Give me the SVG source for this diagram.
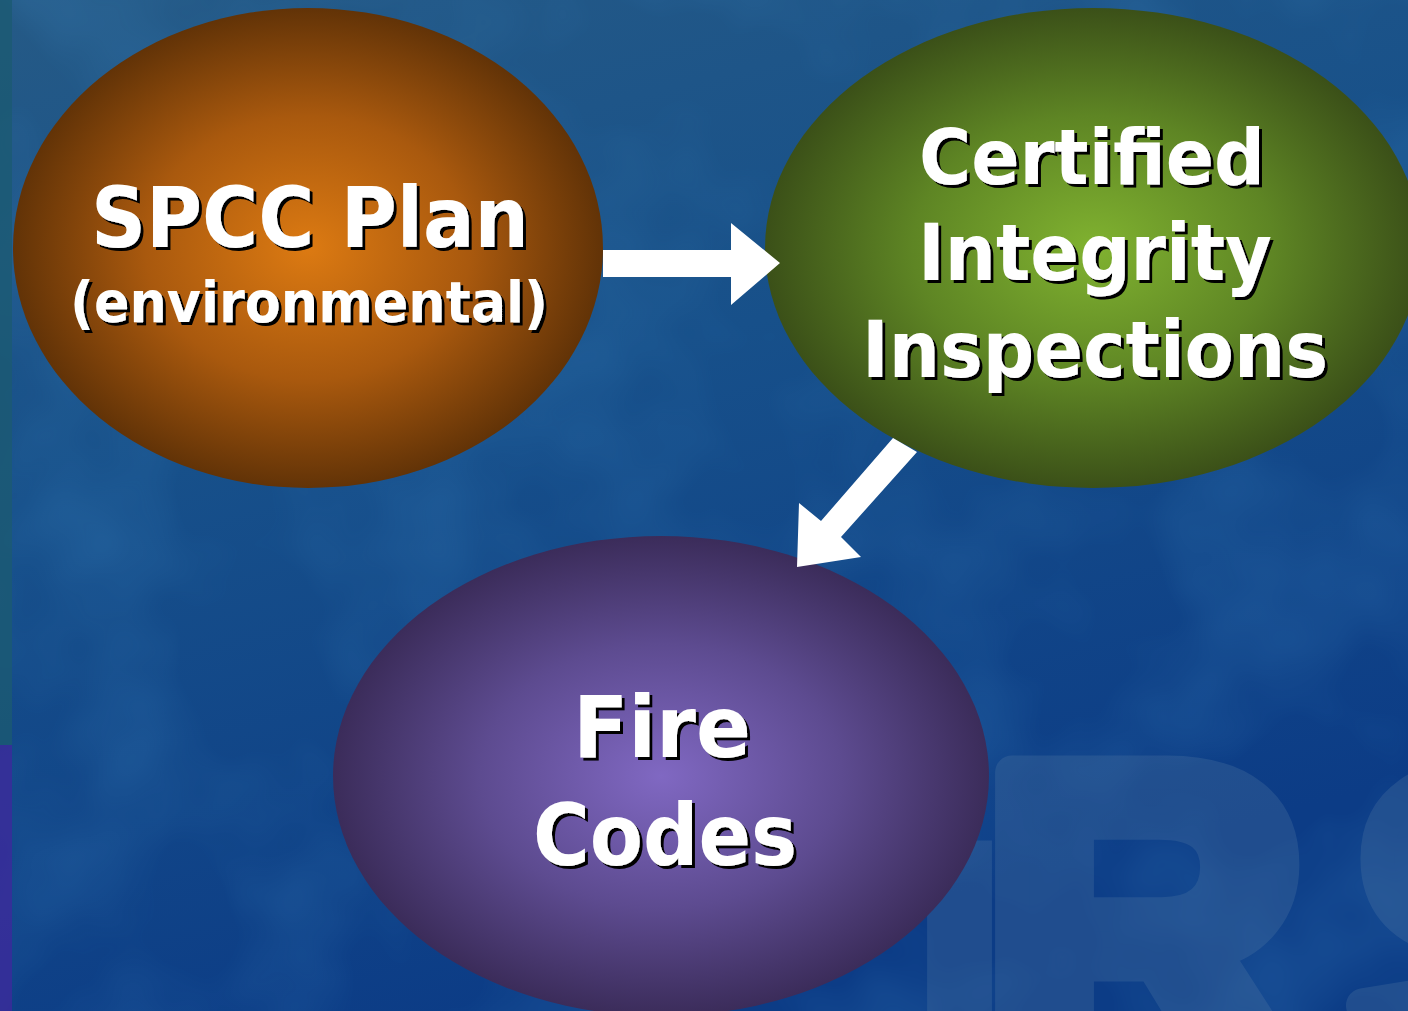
<svg xmlns="http://www.w3.org/2000/svg" width="1408" height="1011" viewBox="0 0 1408 1011">
  <style>
    .label { font-family: "DejaVu Sans", Verdana, sans-serif; font-weight: bold; fill: #ffffff; }
    .arrow { fill: #ffffff; }
    .mark { font-family: "Liberation Sans", Arial, sans-serif; font-weight: bold; fill: #5a7fa6; stroke: #5a7fa6; stroke-linejoin: round; opacity: 0.26; }
  </style>
  <defs>
    <linearGradient id="bg" x1="0" y1="0" x2="0.35" y2="1">
      <stop offset="0" stop-color="#255a86"/>
      <stop offset="0.45" stop-color="#17508a"/>
      <stop offset="1" stop-color="#0c3c86"/>
    </linearGradient>
    <radialGradient id="gOrange" cx="0.5" cy="0.5" r="0.5">
      <stop offset="0" stop-color="#dc7a12"/>
      <stop offset="0.55" stop-color="#a9590e"/>
      <stop offset="1" stop-color="#623307"/>
    </radialGradient>
    <radialGradient id="gGreen" cx="0.5" cy="0.5" r="0.5">
      <stop offset="0" stop-color="#80b230"/>
      <stop offset="0.55" stop-color="#5e8524"/>
      <stop offset="1" stop-color="#3b5018"/>
    </radialGradient>
    <radialGradient id="gPurple" cx="0.5" cy="0.5" r="0.5">
      <stop offset="0" stop-color="#8068c2"/>
      <stop offset="0.55" stop-color="#5d4b90"/>
      <stop offset="1" stop-color="#3b2c5a"/>
    </radialGradient>
    <filter id="mottle" x="0" y="0" width="100%" height="100%">
      <feTurbulence type="fractalNoise" baseFrequency="0.006" numOctaves="3" seed="7"/>
      <feColorMatrix type="matrix" values="0 0 0 0 0.05  0 0 0 0 0.25  0 0 0 0 0.55  0 0 0 1.2 -0.45"/>
    </filter>
    <filter id="shadow" x="-5%" y="-5%" width="110%" height="120%">
      <feOffset in="SourceAlpha" dx="3" dy="3" result="off"/>
      <feMerge>
        <feMergeNode in="off"/>
        <feMergeNode in="SourceGraphic"/>
      </feMerge>
    </filter>
  </defs>

  <!-- backdrop -->
  <g id="background">
    <rect width="1408" height="1011" fill="url(#bg)"/>
    <rect width="1408" height="1011" filter="url(#mottle)" opacity="0.4"/>
    <rect x="0" y="0" width="12" height="745" fill="#1b5a72" opacity="0.8"/>
    <rect x="0" y="745" width="12" height="266" fill="#3a2c9a" opacity="0.85"/>
    <text class="mark" font-size="450"><tspan x="897" y="1150" stroke-width="0">I</tspan><tspan x="982" y="1082" stroke-width="34">R</tspan><tspan x="1350" y="1086" stroke-width="34">S</tspan></text>
  </g>

  <g id="node-spcc">
    <ellipse cx="308" cy="248" rx="295" ry="240" fill="url(#gOrange)"/>
    <g filter="url(#shadow)">
      <text class="label" x="91" y="247" font-size="84" textLength="438" lengthAdjust="spacingAndGlyphs">SPCC Plan</text>
      <text class="label" x="70" y="322" font-size="57" textLength="478" lengthAdjust="spacingAndGlyphs">(environmental)</text>
    </g>
  </g>

  <g id="node-integrity">
    <ellipse cx="1093" cy="248" rx="328" ry="240" fill="url(#gGreen)"/>
    <g filter="url(#shadow)">
      <text class="label" x="919" y="184" font-size="76" textLength="346" lengthAdjust="spacingAndGlyphs">Certified</text>
      <text class="label" x="918" y="280" font-size="78" textLength="354" lengthAdjust="spacingAndGlyphs">Integrity</text>
      <text class="label" x="862" y="377" font-size="78" textLength="466" lengthAdjust="spacingAndGlyphs">Inspections</text>
    </g>
  </g>

  <g id="node-fire">
    <ellipse cx="661" cy="776" rx="328" ry="240" fill="url(#gPurple)"/>
    <g filter="url(#shadow)">
      <text class="label" x="573" y="757" font-size="85" textLength="178" lengthAdjust="spacingAndGlyphs">Fire</text>
      <text class="label" x="533" y="865" font-size="85" textLength="264" lengthAdjust="spacingAndGlyphs">Codes</text>
    </g>
  </g>

  <g id="connectors">
    <polygon class="arrow" points="603,250 731,250 731,223 780,263 731,305 731,277 603,277"/>
    <polygon class="arrow" points="893,438 917,452 841,537 861,557 797,567 799,503 821,521"/>
  </g>
</svg>
